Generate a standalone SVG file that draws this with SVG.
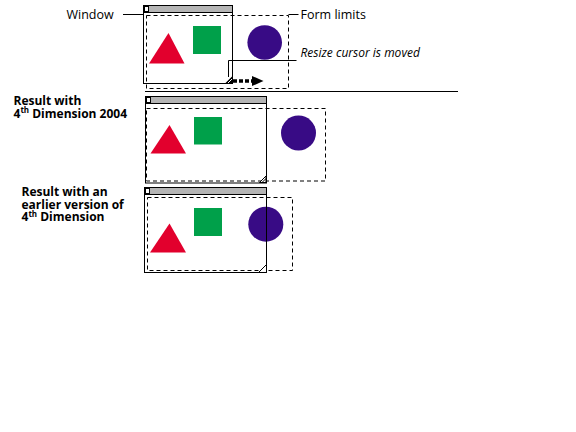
<svg xmlns="http://www.w3.org/2000/svg" width="576" height="432" viewBox="0 0 576 432">
<style>
.win{fill:#fff;stroke:#000;stroke-width:1}
.bar{fill:#b5b5b5;stroke:#000;stroke-width:1}
.ico{fill:#fff;stroke:#000;stroke-width:1}
.lim{fill:none;stroke:#000;stroke-width:1;stroke-dasharray:4 3}
.tri{fill:#e2002d}
.sq{fill:#00a04a}
.cir{fill:#380b85}
.ln{fill:none;stroke:#000;stroke-width:1}
.lbl{font-family:"Open Sans","Liberation Sans",sans-serif;font-size:12.5px;fill:#000}
.it{font-style:italic;font-size:12px}
.res{font-family:"Open Sans","Liberation Sans",sans-serif;font-size:12px;font-weight:bold;fill:#000}
</style>
<rect width="576" height="432" fill="#fff"/>

<g id="panel1">
  <rect class="win" x="143.5" y="5.5" width="89" height="78"/>
  <rect class="bar" x="143.5" y="5.5" width="89" height="7"/>
  <rect class="ico" x="144.5" y="6.5" width="4" height="5"/>
  <rect class="lim" x="146.5" y="15.5" width="142" height="73"/>
  <polygon class="tri" points="149,63.5 168.5,33 184.5,63.5"/>
  <rect class="sq" x="193" y="26" width="28" height="28"/>
  <circle class="cir" cx="264.7" cy="42.5" r="17.3"/>
  <polygon points="225,83.5 232.5,76 232.5,83.5" fill="#000"/>
  <line x1="228" y1="83" x2="232" y2="79" stroke="#fff" stroke-width="1"/>
</g>

<g id="panel2">
  <rect class="win" x="145.5" y="96.5" width="121" height="86.5"/>
  <rect class="bar" x="145.5" y="96.5" width="121" height="7"/>
  <rect class="ico" x="146.5" y="97.5" width="4" height="5"/>
  <rect class="lim" x="146.5" y="108.5" width="179" height="72.5"/>
  <polygon class="tri" points="150.5,153.5 169.5,125 186,153.5"/>
  <rect class="sq" x="194" y="117" width="28" height="27.5"/>
  <circle class="cir" cx="298.5" cy="133" r="17.5"/>
  <polygon points="259.5,182.5 266,176 266,182.5" fill="#fff" stroke="#000" stroke-width="1"/>
  <line x1="262" y1="182.5" x2="266" y2="178.5" stroke="#000" stroke-width="1"/>
</g>

<g id="panel3">
  <rect class="win" x="144.5" y="187.5" width="122" height="85"/>
  <rect class="bar" x="144.5" y="187.5" width="122" height="7"/>
  <rect class="ico" x="145.5" y="188.5" width="4" height="5"/>
  <rect class="lim" x="147.5" y="197.5" width="145" height="73"/>
  <polygon class="tri" points="150,252.5 169.5,223.5 186,252.5"/>
  <rect class="sq" x="194" y="208" width="28" height="28"/>
  <circle class="cir" cx="265.8" cy="224.2" r="17.5"/>
  <line class="ln" x1="266.5" y1="206" x2="266.5" y2="242"/>
  <polygon points="258.5,272.5 266.5,264.5 266.5,272.5" fill="#fff" stroke="#000" stroke-width="1"/>
</g>

<g id="connectors">
  <line class="ln" x1="123" y1="14.5" x2="143.5" y2="14.5"/>
  <line class="ln" x1="288.5" y1="14.5" x2="298.5" y2="14.5"/>
  <polyline class="ln" points="228.5,77 228.5,60.5 296.5,60.5"/>
  <line x1="233" y1="81" x2="252" y2="81" stroke="#000" stroke-width="3.3" stroke-dasharray="4 2"/>
  <polygon points="252,76 263.5,81 252,86" fill="#000"/>
  <line class="ln" x1="145" y1="91.5" x2="458" y2="91.5"/>
</g>

<g id="labels">
  <text class="lbl" x="66.5" y="18.5">Window</text>
  <text class="lbl" x="300.5" y="18.5">Form limits</text>
  <text class="lbl it" x="300.5" y="57">Resize cursor is moved</text>
  <text class="res" x="13.5" y="104.5">Result with</text>
  <text class="res" x="13.5" y="117.5">4<tspan font-size="8" dy="-4.5">th</tspan><tspan dy="4.5"> Dimension 2004</tspan></text>
  <text class="res" x="21.5" y="196">Result with an</text>
  <text class="res" x="21.5" y="208.5">earlier version of</text>
  <text class="res" x="21.5" y="221">4<tspan font-size="8" dy="-4.5">th</tspan><tspan dy="4.5"> Dimension</tspan></text>
</g>
</svg>
